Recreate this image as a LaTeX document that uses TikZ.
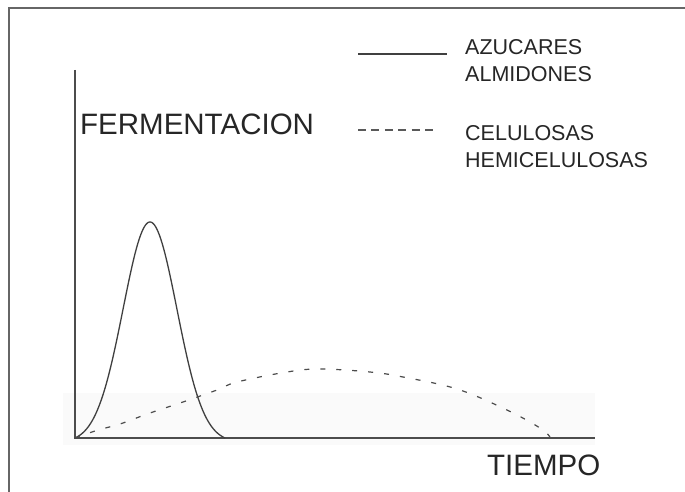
\documentclass[tikz,border=0pt]{standalone}
\usepackage{fontspec}
\setmainfont{Liberation Sans}
\tikzset{
  frameline/.style={draw=black!60, line width=1.4pt},
  axisline/.style={draw=black!70, line width=1.2pt},
  solidcurve/.style={draw=black!75, line width=1.3pt},
  dashcurve/.style={draw=black!70, line width=1.2pt, dash pattern=on 5pt off 11pt},
  legenddash/.style={draw=black!65, line width=1.1pt, dash pattern=on 8pt off 5.4pt},
  bigtext/.style={anchor=base west, inner sep=0pt, text=black!85, font=\fontsize{29.5}{32}\selectfont},
  legtext/.style={anchor=base west, inner sep=0pt, text=black!85, font=\fontsize{21.5}{27}\selectfont, align=left},
}
\begin{document}
\begin{tikzpicture}[x=1pt,y=-1pt]
\useasboundingbox (0,0) rectangle (685,492);
\fill[white] (0,0) rectangle (685,492);
% faint scan band
\fill[black!2] (63,393) rectangle (595,445);
% frame
\draw[frameline] (9,492) -- (9,8) -- (685,8);
% axes
\coordinate (ytop) at (75,70);
\coordinate (origin) at (75,438);
\coordinate (xend) at (595,438);
\draw[axisline] (ytop) -- (origin) -- (xend);
% solid curve (azucares)
\draw[solidcurve] plot[domain=75:225, samples=120, smooth]
  (\x, {438 - 216*(exp(-((\x-150)/38)^2) - 0.0204)/0.9796});
% dashed curve (celulosas)
\draw[dashcurve] plot[smooth, tension=0.6] coordinates {
  (75,438) (98,430) (120,424) (150,413) (183,402) (217,390) (237,382)
  (287,372) (320,369) (370,372) (403,377) (457,389) (507,410) (540,428) (550,437)};
% labels
\node[bigtext] (ylab) at (80,135) {FERMENTACION};
\node[bigtext] (xlab) at (487,475) {TIEMPO};
% legend
\coordinate (l1a) at (358,54);
\coordinate (l1b) at (447,54);
\draw[solidcurve] (l1a) -- (l1b);
\node[legtext] (leg1) at (465,82) {AZUCARES\\ALMIDONES};
\coordinate (l2a) at (358,130);
\coordinate (l2b) at (433,130);
\draw[legenddash] (l2a) -- (l2b);
\node[legtext] (leg2) at (465,167) {CELULOSAS\\HEMICELULOSAS};
\end{tikzpicture}
\end{document}
